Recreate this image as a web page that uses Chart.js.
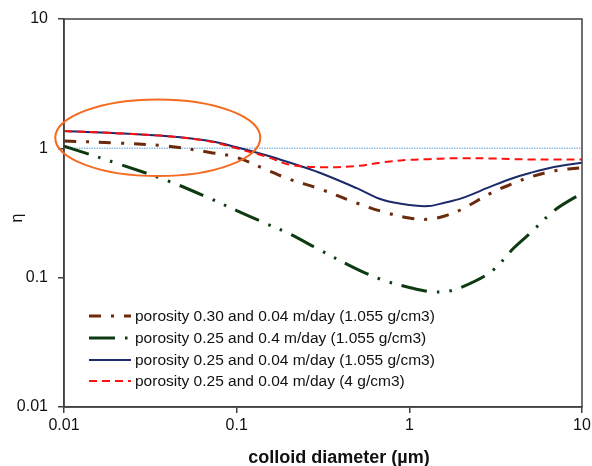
<!DOCTYPE html>
<html>
<head>
<meta charset="utf-8">
<script src="https://cdn.jsdelivr.net/npm/chart.js@4/dist/chart.umd.min.js"></script>
<style>
  html, body { margin: 0; padding: 0; background: #fff; }
  #wrap { width: 592px; height: 466px; position: relative; }
</style>
</head>
<body>
<div id="wrap"><canvas id="c"></canvas></div>
<script>
// ---- data ----
const diameters = [0.01, 0.02, 0.04, 0.07, 0.1, 0.15, 0.2, 0.3, 0.5, 0.7, 1, 1.3, 1.6, 2, 3, 4, 5, 7, 10];
const etaPor030v004 = [1.14, 1.10, 1.04, 0.93, 0.85, 0.68, 0.58, 0.488, 0.376, 0.324, 0.289, 0.283, 0.30, 0.337, 0.454, 0.535, 0.60, 0.672, 0.71];
const etaPor025v04  = [1.04, 0.77, 0.56, 0.41, 0.33, 0.26, 0.22, 0.165, 0.116, 0.096, 0.084, 0.078, 0.078, 0.084, 0.112, 0.168, 0.22, 0.335, 0.45];
const etaPor025v004 = [1.36, 1.31, 1.24, 1.14, 1.02, 0.88, 0.78, 0.65, 0.49, 0.40, 0.364, 0.358, 0.38, 0.41, 0.51, 0.59, 0.645, 0.72, 0.775];
const etaPor025v004d4 = [1.36, 1.31, 1.24, 1.13, 1.0, 0.86, 0.75, 0.715, 0.73, 0.78, 0.815, 0.825, 0.835, 0.84, 0.835, 0.825, 0.82, 0.82, 0.82];
const seriesLabels = [
  'porosity 0.30 and 0.04 m/day (1.055 g/cm3)',
  'porosity 0.25 and 0.4 m/day (1.055 g/cm3)',
  'porosity 0.25 and 0.04 m/day (1.055 g/cm3)',
  'porosity 0.25 and 0.04 m/day (4 g/cm3)'
];
const refLineX = [0.01, 10];
const refLineY = [1, 1];
const xTicks = [0.01, 0.1, 1, 10];
const yTicks = [0.01, 0.1, 1, 10];
const xTitle = 'colloid diameter (\u00b5m)';
const yTitle = '\u03b7';
// highlighted region (ellipse) in data units
const ellipseX = [0.0089, 0.137];
const ellipseY = [0.61, 2.39];

const toPts = (xs, ys) => xs.map((x, i) => ({ x: x, y: ys[i] }));

const FONT = "'Liberation Sans', Arial, sans-serif";

const styles = [
  { color: '#6b2a0c', width: 3, dash: [12, 10, 3, 10], order: 2 },
  { color: '#0e3a12', width: 3, dash: [26, 10, 2.5, 10, 2.5, 10], order: 3 },
  { color: '#1b2a6b', width: 2, dash: [], order: 1 },
  { color: '#ff1010', width: 2, dash: [8, 5], order: 0 }
];
const seriesData = [etaPor030v004, etaPor025v04, etaPor025v004, etaPor025v004d4];

const datasets = seriesData.map((ys, i) => ({
  label: seriesLabels[i],
  data: toPts(diameters, ys),
  borderColor: styles[i].color,
  backgroundColor: styles[i].color,
  borderWidth: styles[i].width,
  borderDash: styles[i].dash,
  borderCapStyle: 'butt',
  pointRadius: 0,
  tension: 0.35,
  order: styles[i].order,
  fill: false
}));
datasets.push({
  label: 'ref',
  data: toPts(refLineX, refLineY),
  borderColor: '#8ebfe8',
  borderWidth: 1.5,
  borderDash: [1.5, 1],
  pointRadius: 0,
  order: 5,
  fill: false
});

const decor = {
  id: 'decor',
  afterDraw(chart) {
    const { ctx, chartArea: a, scales } = chart;
    const xs = scales.x, ys = scales.y;
    ctx.save();
    // frame
    ctx.strokeStyle = '#404040';
    ctx.lineWidth = 1.5;
    ctx.setLineDash([]);
    ctx.strokeRect(a.left, a.top, a.right - a.left, a.bottom - a.top);

    // ellipse annotation
    const l = xs.getPixelForValue(ellipseX[0]), r = xs.getPixelForValue(ellipseX[1]);
    const t = ys.getPixelForValue(ellipseY[1]), b = ys.getPixelForValue(ellipseY[0]);
    ctx.beginPath();
    ctx.ellipse((l + r) / 2, (t + b) / 2, (r - l) / 2, (b - t) / 2, 0, 0, Math.PI * 2);
    ctx.strokeStyle = '#f36c21';
    ctx.lineWidth = 2;
    ctx.stroke();

    // legend
    const rows = [316, 338, 360, 381];
    ctx.font = '15.5px ' + FONT;
    ctx.textBaseline = 'middle';
    ctx.textAlign = 'left';
    for (let i = 0; i < 4; i++) {
      const ds = chart.data.datasets[i];
      ctx.beginPath();
      ctx.setLineDash(ds.borderDash || []);
      ctx.lineDashOffset = 0;
      ctx.strokeStyle = ds.borderColor;
      ctx.lineWidth = ds.borderWidth;
      ctx.lineCap = 'butt';
      ctx.moveTo(89, rows[i]);
      ctx.lineTo(131, rows[i]);
      ctx.stroke();
      ctx.setLineDash([]);
      ctx.fillStyle = '#111';
      ctx.fillText(ds.label, 135, rows[i] + 1);
    }

    // x title
    ctx.font = 'bold 18px ' + FONT;
    ctx.textAlign = 'center';
    ctx.textBaseline = 'alphabetic';
    ctx.fillStyle = '#111';
    ctx.fillText(xTitle, 339, 463);

    // y title (rotated)
    ctx.translate(22, 218);
    ctx.rotate(-Math.PI / 2);
    ctx.font = '16px ' + FONT;
    ctx.textAlign = 'center';
    ctx.fillText(yTitle, 0, 0);
    ctx.restore();
  }
};

const fmt = v => String(v);

new Chart(document.getElementById('c'), {
  type: 'line',
  data: { datasets },
  options: {
    responsive: true,
    maintainAspectRatio: false,
    animation: false,
    events: [],
    layout: { padding: { left: 0, top: 19, right: 10, bottom: 0 } },
    plugins: { legend: { display: false }, tooltip: { enabled: false } },
    scales: {
      x: {
        type: 'logarithmic',
        min: 0.01, max: 10,
        afterBuildTicks: s => { s.ticks = xTicks.map(v => ({ value: v })); },
        afterFit: s => { s.height = 59; s.paddingLeft = 0; s.paddingRight = 0; },
        ticks: { callback: fmt, font: { family: FONT, size: 16 }, color: '#111', padding: 3, maxRotation: 0, autoSkip: false },
        grid: { drawOnChartArea: false, drawTicks: true, tickLength: 6, color: '#404040', lineWidth: 1.5 },
        border: { display: true, color: '#404040', width: 1.5 }
      },
      y: {
        type: 'logarithmic',
        min: 0.01, max: 10,
        afterBuildTicks: s => { s.ticks = yTicks.map(v => ({ value: v })); },
        afterFit: s => { s.width = 64; s.paddingTop = 0; s.paddingBottom = 0; },
        ticks: { callback: fmt, font: { family: FONT, size: 16 }, color: '#111', padding: 10, autoSkip: false },
        grid: { drawOnChartArea: false, drawTicks: true, tickLength: 6, color: '#404040', lineWidth: 1.5 },
        border: { display: true, color: '#404040', width: 1.5 }
      }
    }
  },
  plugins: [decor]
});
</script>
</body>
</html>
